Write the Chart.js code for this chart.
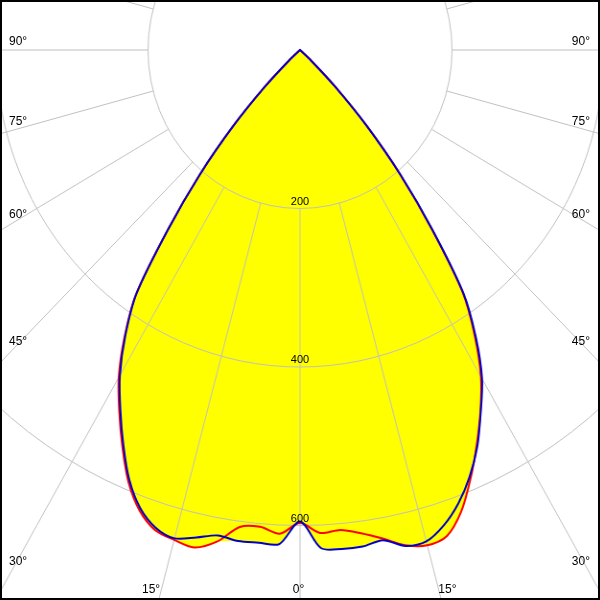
<!DOCTYPE html>
<html lang="en">
<head>
<meta charset="UTF-8" />
<title>Luminous intensity distribution</title>
<script src="https://cdn.jsdelivr.net/npm/chart.js"></script>
<style>
  html, body { margin: 0; padding: 0; background: #fff; }
  #frame {
    position: relative;
    width: 600px;
    height: 600px;
    overflow: hidden;
    background: #fff;
    font-family: "Liberation Sans", Arial, sans-serif;
  }
  #frame canvas { position: absolute; }
  #border {
    position: absolute;
    left: 0; top: 0;
    width: 600px; height: 600px;
    box-sizing: border-box;
    border: 2px solid #000;
    pointer-events: none;
    z-index: 5;
  }
  .lbl {
    position: absolute;
    font-size: 12px;
    line-height: 14px;
    color: #000;
    white-space: nowrap;
    z-index: 3;
  }
  .lbl.tick { font-size: 11px; line-height: 13px; }
</style>
</head>
<body>
<div id="frame">
  <canvas id="polar" width="1268" height="1268"></canvas>
  <div id="border"></div>
</div>
<script>
  // gamma angles (deg) of the readings, measured from straight down; above 50 deg it is 0
  const gammas = [0, 2.5, 5, 7.5, 10, 12.5, 15, 17.5, 20, 22.5, 25, 27.5, 30, 32.5, 35, 37.5, 40, 42.5, 45, 47.5, 50];

  // red plane (cd/klm), right and left half
  const redRight = [597, 610, 608, 615, 626, 640, 647, 643, 620, 586, 550, 514, 476, 428, 373, 285, 205, 130, 65, 20, 0];
  const redLeft  = [597, 611, 604, 607, 630, 643, 640, 635, 618, 590, 553, 515, 477, 430, 376, 285, 205, 130, 65, 20, 0];
  // blue plane
  const blueRight = [595, 629, 632, 632, 628, 641, 642, 629, 609, 583, 552, 515, 479, 431, 375, 287, 206, 130, 65, 20, 0];
  const blueLeft  = [595, 624, 624, 625, 622, 630, 638, 632, 615, 587, 550, 512, 474, 428, 375, 285, 205, 130, 65, 20, 0];

  const ringValues = [200, 400, 600];
  const angleTicks = [0, 15, 30, 45, 60, 75, 90];

  // layout
  const CX = 300, CY = 50;   // pole of the diagram in the page
  const SX = 0.959;          // the original is drawn a bit narrower than tall
  const SIZE = 1268;
  const RMAX = 800;
  const STEP = 2.5;
  const N = 360 / STEP;

  const labels = Array.from({ length: N }, (_, i) => i * STEP);

  // index 0 points down, indices go round the left side first
  function fullCircle(left, right) {
    const out = new Array(N).fill(0);
    gammas.forEach((g, i) => {
      const k = Math.round(g / STEP);
      if (k === 0) out[0] = (left[i] + right[i]) / 2;
      else { out[k] = left[i]; out[N - k] = right[i]; }
    });
    return out;
  }

  const red = fullCircle(redLeft, redRight);
  const blue = fullCircle(blueLeft, blueRight);
  const envelope = red.map((v, i) => Math.max(v, blue[i]));

  const canvas = document.getElementById('polar');
  canvas.style.left = (CX - SIZE / 2) + 'px';
  canvas.style.top = (CY - SIZE / 2) + 'px';
  canvas.style.transformOrigin = (SIZE / 2) + 'px ' + (SIZE / 2) + 'px';
  canvas.style.transform = 'scaleX(' + SX + ')';

  const grey = '#c0c0c0';
  const chart = new Chart(canvas, {
    type: 'radar',
    data: {
      labels: labels,
      datasets: [
        { label: 'blue', data: blue, borderColor: '#0000c8', borderWidth: 2, pointRadius: 0, fill: false },
        { label: 'red', data: red, borderColor: '#ff0000', borderWidth: 2, pointRadius: 0, fill: false },
        { label: 'area', data: envelope, borderColor: 'rgba(0,0,0,0)', borderWidth: 1, backgroundColor: '#ffff00', pointRadius: 0, fill: 'origin' }
      ]
    },
    options: {
      responsive: false,
      animation: false,
      devicePixelRatio: 1,
      plugins: {
        legend: { display: false },
        tooltip: { enabled: false },
        filler: { drawTime: 'beforeDraw' }   // yellow under the grid, curves above it
      },
      elements: { line: { tension: 0.3 } },
      scales: {
        r: {
          min: 0,
          max: RMAX,
          startAngle: 180,
          ticks: { display: false, stepSize: 200 },
          pointLabels: { display: false },
          grid: {
            circular: true,
            color: grey,
            lineWidth: c => ringValues.includes(c.tick.value) ? 1 : 0
          },
          angleLines: {
            color: grey,
            lineWidth: c => c.index % 6 === 0 ? 1 : 0,
            // spokes start at the first ring
            borderDash: [0, ringValues[0] * (SIZE / 2) / RMAX, SIZE, 0]
          }
        }
      }
    }
  });

  // text labels
  const frame = document.getElementById('frame');
  function addLabel(text, cls, css) {
    const d = document.createElement('div');
    d.className = 'lbl ' + cls;
    d.textContent = text;
    Object.assign(d.style, css);
    frame.appendChild(d);
  }

  const rs = chart.scales.r;
  ringValues.forEach(v => {
    const y = CY + rs.getDistanceFromCenterForValue(v) - 7.5;
    addLabel(String(v), 'tick', { left: (CX - 20) + 'px', width: '40px', textAlign: 'center', top: (y - 6.5) + 'px' });
  });

  const EDGE_X = 12, RISE = 9, BOTTOM_Y = 588.5;
  angleTicks.forEach(g => {
    const t = g * Math.PI / 180;
    const txt = g + '\u00b0';
    if (g >= 30) {
      const y = (g === 90 ? CY : CY + (CX - EDGE_X) / SX / Math.tan(t)) - RISE;
      addLabel(txt, '', { left: '9px', top: (y - 7) + 'px' });
      addLabel(txt, '', { right: '10px', top: (y - 7) + 'px' });
    } else if (g === 0) {
      addLabel(txt, '', { left: (CX - 21.5) + 'px', width: '40px', textAlign: 'center', top: (BOTTOM_Y - 7) + 'px' });
    } else {
      const dx = SX * (BOTTOM_Y - CY) * Math.tan(t);
      addLabel(txt, '', { right: (600 - (CX - dx) + 1.5) + 'px', top: (BOTTOM_Y - 7) + 'px' });
      addLabel(txt, '', { left: (CX + dx) + 'px', top: (BOTTOM_Y - 7) + 'px' });
    }
  });
</script>
</body>
</html>
